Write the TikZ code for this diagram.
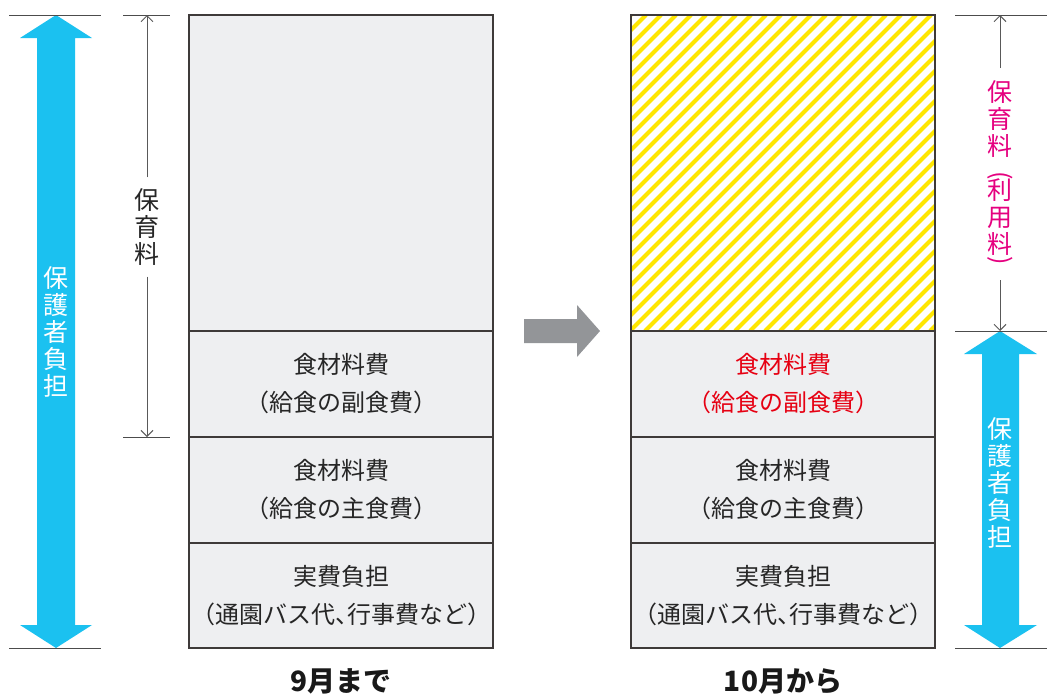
\documentclass[tikz,border=0pt]{standalone}
\usepackage{fontspec}
\setmainfont{Noto Sans CJK JP}
\newfontfamily\jphalt{Noto Sans CJK JP}[RawFeature=+halt]
\usetikzlibrary{arrows.meta}
\definecolor{cyanA}{HTML}{1BC1F0}
\definecolor{boxgray}{HTML}{EEEFF1}
\definecolor{edgec}{HTML}{3E3A39}
\definecolor{hatchc}{HTML}{FFE600}
\definecolor{magc}{HTML}{E5007F}
\definecolor{redc}{HTML}{E60012}
\definecolor{arrowgray}{HTML}{939598}
\newcommand{\vpar}[1]{\rotatebox[origin=c]{-90}{#1}}
\begin{document}
\begin{tikzpicture}[x=1pt,y=-1pt,
  partbox/.style={draw=edgec,line width=1.5pt,fill=boxgray,minimum width=304pt,text width=300pt,anchor=north west,inner sep=0pt,outer sep=0pt,align=center,font=\jphalt\fontsize{24}{38}\selectfont,text=black!85},
  guideline/.style={draw=black!70,line width=1pt},
  dimarrow/.style={draw=black!65,line width=1pt,-{Straight Barb[length=6pt,width=12pt]}},
  vtext/.style={align=center,inner xsep=0pt,inner ysep=0pt,font=\fontsize{25}{27}\selectfont},
  bottomlabel/.style={font=\fontsize{28}{28}\bfseries\selectfont,text=black!90},
]
\useasboundingbox (0,0) rectangle (1047,697);

% left column
\node[partbox,minimum height=316pt] (L1) at (189,15) {};
\node[partbox,minimum height=106pt] (L2) at (189,331) {食材料費\\（給食の副食費）};
\node[partbox,minimum height=106pt] (L3) at (189,437) {食材料費\\（給食の主食費）};
\node[partbox,minimum height=105pt] (L4) at (189,543) {実費負担\\（通園バス代、行事費など）};

% right column
\node[partbox,fill=white,minimum height=316pt] (R1) at (631,15) {};
\begin{scope}
  \clip (R1.south west) rectangle (R1.north east);
  \foreach \i in {300,315,...,950} {
    \draw[hatchc,line width=4pt] (\i,331) -- ++(316,-316);
  }
\end{scope}
\draw[edgec,line width=1.5pt] (R1.south west) rectangle (R1.north east);
\node[partbox,minimum height=106pt,text=redc] (R2) at (631,331) {食材料費\\（給食の副食費）};
\node[partbox,minimum height=106pt] (R3) at (631,437) {食材料費\\（給食の主食費）};
\node[partbox,minimum height=105pt] (R4) at (631,543) {実費負担\\（通園バス代、行事費など）};

% gray arrow
\fill[arrowgray] (524,319) -- (577,319) -- (577,305) -- (600,331) -- (577,357) -- (577,343) -- (524,343) -- cycle;

% blue double arrows
\fill[cyanA] (56,15) -- (92,38) -- (75,38) -- (75,625) -- (92,625) -- (56,648) -- (20,625) -- (37,625) -- (37,38) -- (20,38) -- cycle;
\fill[cyanA] (1000,331) -- (1037,354) -- (1019,354) -- (1019,625) -- (1037,625) -- (1000,648) -- (964,625) -- (982,625) -- (982,354) -- (964,354) -- cycle;
\node[vtext,text=white] (LB) at (56,332) {保\\護\\者\\負\\担};
\node[vtext,text=white] (RB) at (1000,483) {保\\護\\者\\負\\担};

% guide lines
\coordinate (g1a) at (9,15);   \coordinate (g1b) at (101,15);
\coordinate (g2a) at (9,648);  \coordinate (g2b) at (101,648);
\coordinate (g3a) at (123,15); \coordinate (g3b) at (170,15);
\coordinate (g4a) at (123,437);\coordinate (g4b) at (170,437);
\coordinate (g5a) at (955,15); \coordinate (g5b) at (1047,15);
\coordinate (g6a) at (955,331);\coordinate (g6b) at (1047,331);
\coordinate (g7a) at (955,648);\coordinate (g7b) at (1047,648);
\draw[guideline] (g1a) -- (g1b);
\draw[guideline] (g2a) -- (g2b);
\draw[guideline] (g3a) -- (g3b);
\draw[guideline] (g4a) -- (g4b);
\draw[guideline] (g5a) -- (g5b);
\draw[guideline] (g6a) -- (g6b);
\draw[guideline] (g7a) -- (g7b);

% left dimension
\node[vtext,inner ysep=11pt,text=black!85] (LD) at (147,227) {保\\育\\料};
\coordinate (LDt) at (147,15);
\coordinate (LDb) at (147,437);
\draw[dimarrow] (LD) -- (LDt);
\draw[dimarrow] (LD) -- (LDb);

% right dimension
\node[vtext,inner ysep=12pt,text=magc,anchor=north] (RD) at (1000,68) {保\\育\\料\\[1pt]\vpar{(}\\[-11pt]利\\用\\料\\[-12pt]\vpar{)}};
\coordinate (RDt) at (1000,15);
\coordinate (RDb) at (1000,331);
\draw[dimarrow] (RD) -- (RDt);
\draw[dimarrow] (RD) -- (RDb);

% bottom labels
\node[bottomlabel] (LL) at (341,681) {9月まで};
\node[bottomlabel] (RL) at (783,681) {10月から};
\end{tikzpicture}
\end{document}
